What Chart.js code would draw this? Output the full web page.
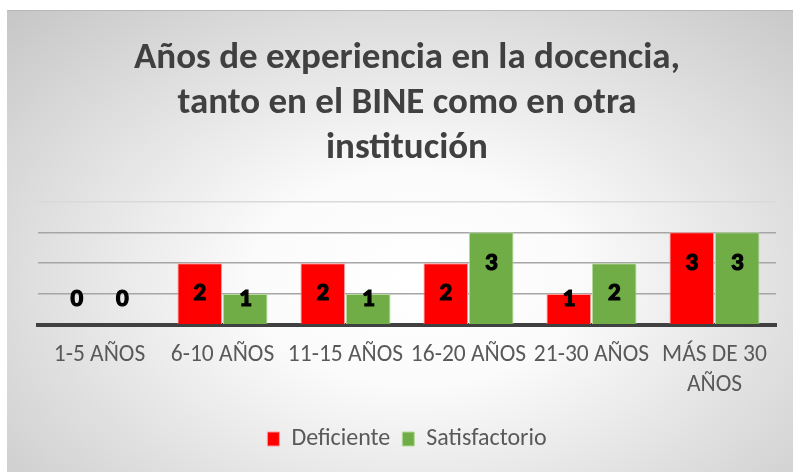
<!DOCTYPE html>
<html>
<head>
<meta charset="utf-8">
<script src="https://cdn.jsdelivr.net/npm/chart.js@4"></script>
<style>
    body { margin: 0; background: #fff; }
    #marco {
        position: absolute; left: 7px; top: 10px; width: 786px; height: 462px;
        border-top: 1px solid #b8b8b8;
        background: radial-gradient(ellipse farthest-corner at 52% 58%, #ffffff 0%, #fbfbfb 28%, #c6c6c6 100%);
    }
</style>
</head>
<body>
<div id="marco"><canvas id="grafico"></canvas></div>
<script>
// datos
const categorias = ['1-5 AÑOS', '6-10 AÑOS', '11-15 AÑOS', '16-20 AÑOS', '21-30 AÑOS', ['MÁS DE 30', 'AÑOS']];
const deficiente = [0, 2, 2, 2, 1, 3];
const satisfactorio = [0, 1, 1, 3, 2, 3];

const fuente = 'Carlito, Lato, sans-serif';

// etiquetas dentro de las barras (como en Excel)
const etiquetas = {
    id: 'etiquetas',
    afterDatasetsDraw(chart) {
        const ctx = chart.ctx;
        const base = chart.scales.y.getPixelForValue(0);
        ctx.save();
        ctx.font = 'bold 25px ' + fuente;
        ctx.fillStyle = '#000';
        ctx.strokeStyle = '#000';
        ctx.lineWidth = 1.2;
        ctx.textAlign = 'center';
        ctx.textBaseline = 'middle';
        chart.data.datasets.forEach((ds, i) => {
            chart.getDatasetMeta(i).data.forEach((bar, j) => {
                const y = Math.min(bar.y + 31, base - 25);
                ctx.fillText(ds.data[j], bar.x, y);
                ctx.strokeText(ds.data[j], bar.x, y);
            });
        });
        ctx.restore();
    }
};

new Chart(document.getElementById('grafico'), {
    type: 'bar',
    data: {
        labels: categorias,
        datasets: [
            {
                label: 'Deficiente',
                data: deficiente,
                backgroundColor: '#ff0000',
                borderColor: '#ff9a9a',
                borderWidth: 1
            },
            {
                label: 'Satisfactorio',
                data: satisfactorio,
                backgroundColor: '#70ad47',
                borderColor: '#b5d99c',
                borderWidth: 1
            }
        ]
    },
    options: {
        responsive: true,
        maintainAspectRatio: false,
        animation: false,
        categoryPercentage: 0.74,
        barPercentage: 0.98,
        layout: { padding: { left: 31, right: 17, top: 0, bottom: 12 } },
        plugins: {
            title: {
                display: true,
                text: ['Años de experiencia en la docencia,', 'tanto en el BINE como en otra', 'institución'],
                color: '#404040',
                font: { family: fuente, size: 37, weight: 'bold', lineHeight: 1.22 },
                padding: { top: 25, bottom: 30 }
            },
            legend: {
                position: 'bottom',
                labels: {
                    color: '#595959',
                    font: { family: fuente, size: 24 },
                    boxWidth: 12,
                    boxHeight: 14,
                    padding: 12
                }
            },
            tooltip: { enabled: false }
        },
        scales: {
            x: {
                grid: { display: false, drawTicks: false },
                border: { display: true, color: '#404040', width: 4 },
                ticks: {
                    color: '#595959',
                    font: { family: fuente, size: 23.5, lineHeight: 1.28 },
                    padding: 15,
                    maxRotation: 0,
                    autoSkip: false
                }
            },
            y: {
                min: 0,
                max: 4,
                ticks: { display: false, stepSize: 1 },
                border: { display: false },
                grid: {
                    drawTicks: false,
                    lineWidth: 1.5,
                    color: c => c.tick.value === 0 ? 'rgba(0,0,0,0)' : (c.tick.value === 4 ? '#d9d9d9' : '#a6a6a6')
                }
            }
        }
    },
    plugins: [etiquetas]
});
</script>
</body>
</html>
